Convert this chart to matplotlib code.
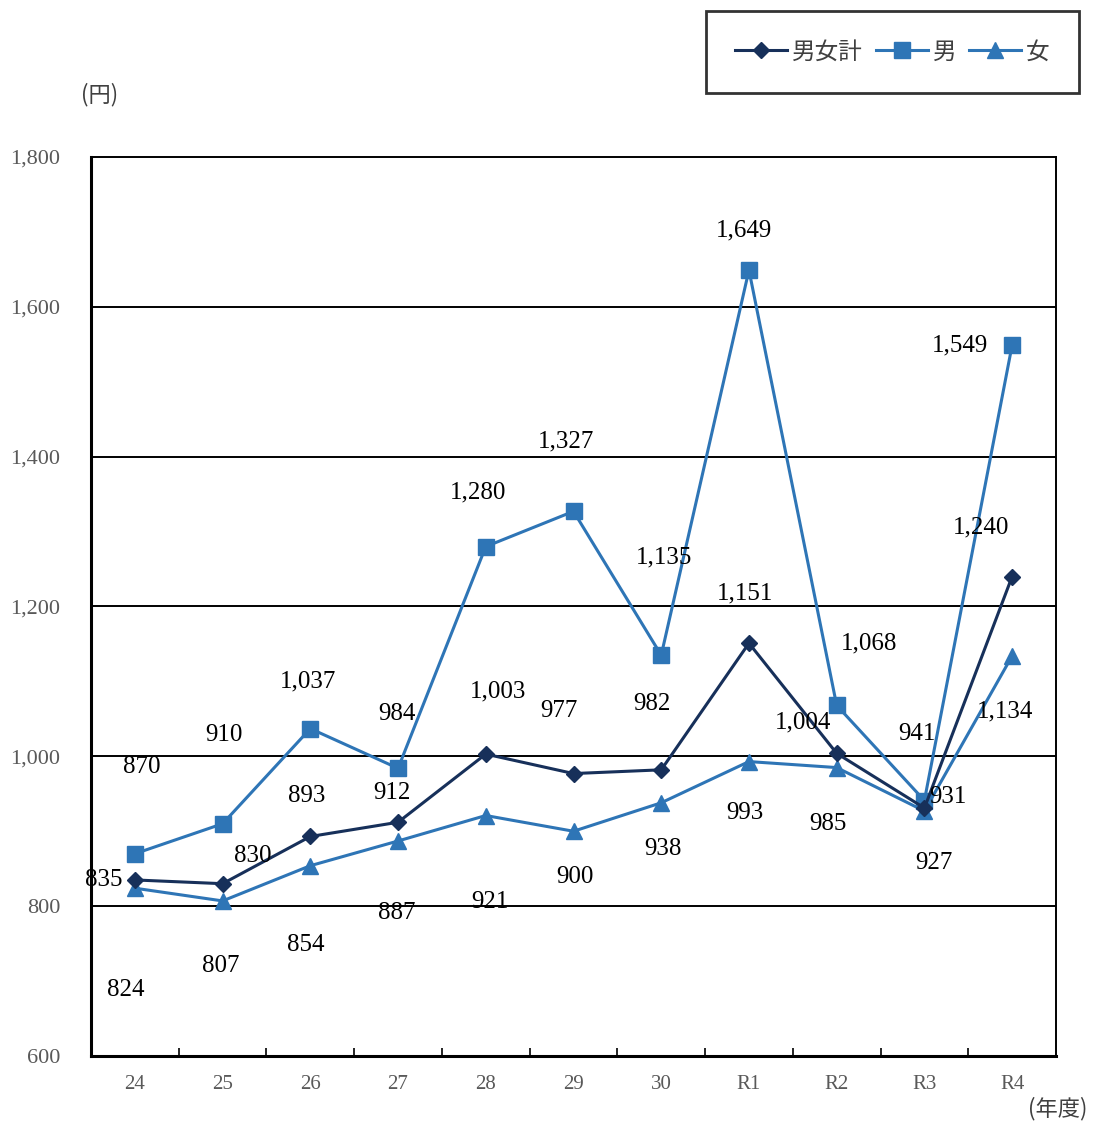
import matplotlib.pyplot as plt

plt.rcParams['font.family'] = ['Liberation Serif', 'Noto Sans CJK JP', 'DejaVu Sans']

# ---------------------------
# Data
# ---------------------------
years = ["24", "25", "26", "27", "28", "29", "30", "R1", "R2", "R3", "R4"]
total = [835, 830, 893, 912, 1003, 977, 982, 1151, 1004, 931, 1240]
male = [870, 910, 1037, 984, 1280, 1327, 1135, 1649, 1068, 941, 1549]
female = [824, 807, 854, 887, 921, 900, 938, 993, 985, 927, 1134]

# label offsets in pixels (dx, dy), dy positive = up
off_total = [(-31, 0), (30, 28), (-4, 40), (-6, 29), (12, 63), (-15, 63),
             (-9, 66), (-4, 50), (-34, 31), (24, 11), (-31, 49)]
off_male = [(7, 87), (1, 89), (-2, 47), (-1, 54), (-8, 54), (-7, 70),
            (3, 98), (-5, 40), (32, 62), (-7, 67), (-52, 0)]
off_female = [(-9, -102), (-2, -65), (-5, -79), (-1, -72), (4, -86), (1, -46),
              (2, -46), (-4, -51), (-9, -56), (10, -52), (-7, -56)]

navy = "#17305a"
blue = "#2e75b6"

fig = plt.figure(figsize=(10.94, 11.24), dpi=100)
ax = fig.add_axes([91 / 1094, 68 / 1124, 965 / 1094, 899 / 1124])

x = list(range(len(years)))
ax.plot(x, total, color=navy, lw=2.2, marker="D", ms=8, label="男女計", zorder=4)
ax.plot(x, male, color=blue, lw=2.2, marker="s", ms=11, label="男", zorder=3)
ax.plot(x, female, color=blue, lw=2.2, marker="^", ms=11, label="女", zorder=3)

for vals, offs in [(total, off_total), (male, off_male), (female, off_female)]:
    for i, v in enumerate(vals):
        ax.annotate(f"{v:,}", (i, v), xytext=offs[i], textcoords="offset pixels",
                    ha="center", va="center", fontsize=18, color="black", zorder=5)

ax.set_xlim(-0.5, len(years) - 0.5)
ax.set_ylim(600, 1800)
ax.set_yticks(range(600, 1801, 200))
ax.set_yticklabels([f"{v:,}" for v in range(600, 1801, 200)], fontsize=16, color="#595959")
ax.tick_params(axis="y", length=0, pad=22)
ax.set_xticks(x)
ax.set_xticklabels(years, fontsize=15, color="#595959")
ax.tick_params(axis="x", length=0, pad=14)
ax.set_xticks([i + 0.5 for i in x[:-1]], minor=True)
ax.tick_params(axis="x", which="minor", direction="in", length=6, width=1.2, color="black")

for v in range(800, 1800, 200):
    ax.axhline(v, color="black", lw=1.4, zorder=1)

for s in ["left", "bottom"]:
    ax.spines[s].set_linewidth(2.2)
for s in ["top", "right"]:
    ax.spines[s].set_linewidth(1.4)

fig.text(100 / 1094, 1 - 95 / 1124, "(円)", fontsize=16, color="#404040",
         ha="center", va="center", family=["Noto Sans CJK JP", "DejaVu Sans"])
fig.text(1058 / 1094, 1 - 1109 / 1124, "(年度)", fontsize=16, color="#404040",
         ha="center", va="center", family=["Noto Sans CJK JP", "DejaVu Sans"])

leg = ax.legend(loc="upper right", bbox_to_anchor=(1079 / 1094, 1 - 11 / 1124),
                bbox_transform=fig.transFigure, ncol=3, frameon=True, fancybox=False,
                prop={"family": ["Noto Sans CJK JP"], "size": 17},
                handlelength=2.2, handletextpad=0.2, columnspacing=0.55,
                borderpad=1.25, borderaxespad=0)
leg.get_frame().set_edgecolor("black")
leg.get_frame().set_linewidth(2)
for t in leg.get_texts():
    t.set_color("#404040")

plt.savefig("out.png", dpi=100)
